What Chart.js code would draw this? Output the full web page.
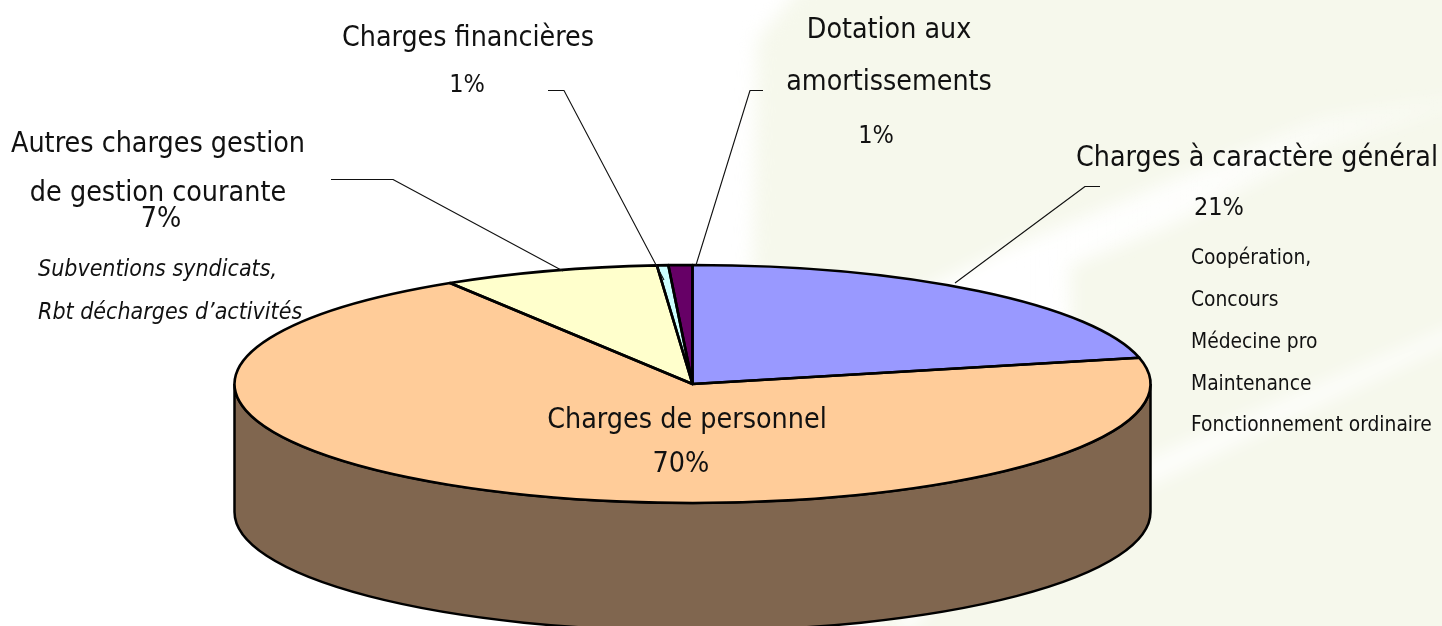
<!DOCTYPE html>
<html lang="fr"><head><meta charset="utf-8">
<style>html,body{margin:0;padding:0;background:#fff;overflow:hidden}canvas{display:block}</style>
<script src="https://cdn.jsdelivr.net/npm/chart.js@4/dist/chart.umd.min.js"></script>
</head><body><canvas id="c" width="1442" height="626"></canvas>
<script>
// Slice shares (printed labels are rounded)
const categories = ["Charges à caractère général","Charges de personnel","Autres charges gestion de gestion courante","Charges financières","Dotation aux amortissements"];
const shares = [21.45, 69.67, 7.64, 0.4, 0.84];
const colours = ["#9999FF","#FFCC99","#FFFFCC","#CCFFFF","#660066"];
const wallColour = "#80664F";
const FONT = '"DejaVu Sans Condensed","DejaVu Sans",sans-serif';

// Presentation geometry of the tilted pie
const E = {cx:692.5, cy:384, rx:458, ry:119, depth:128};

// text, x, y, size, align, style
const texts = [
 ["Charges financières",468,39,28.3,"center",""],
 ["1%",467,85,25,"center",""],
 ["Dotation aux",889,31,28.3,"center",""],
 ["amortissements",889,83,28.3,"center",""],
 ["1%",876,136,25,"center",""],
 ["Charges à caractère général",1257,159,28.3,"center",""],
 ["21%",1219,208,25,"center",""],
 ["Coopération,",1191,259,20.8,"left",""],
 ["Concours",1191,301,20.8,"left",""],
 ["Médecine pro",1191,343,20.8,"left",""],
 ["Maintenance",1191,385,20.8,"left",""],
 ["Fonctionnement ordinaire",1191,426,20.8,"left",""],
 ["Autres charges gestion",158,145,28.4,"center",""],
 ["de gestion courante",158,194,28.4,"center",""],
 ["7%",161,220,28.4,"center",""],
 ["Subventions syndicats,",38,270,23,"left","italic "],
 ["Rbt décharges d’activités",38,313,23,"left","italic "],
 ["Charges de personnel",687,421,28.4,"center",""],
 ["70%",681,465,28.4,"center",""]
];
const leaders = [
 [[548,90.5],[564,90.5],[664,280]],
 [[763,90.5],[750,90.5],[696,265]],
 [[331,179.5],[393,179.5],[563,271]],
 [[1100,186.5],[1085,186.5],[955,283]]
];

function poly(ctx,pts){ctx.beginPath();pts.forEach((p,i)=>i?ctx.lineTo(p[0],p[1]):ctx.moveTo(p[0],p[1]));ctx.closePath();ctx.fill();}

const pie3d = {
 id:"pie3d",
 beforeDraw(chart){
  const ctx=chart.ctx; ctx.save();
  ctx.filter="blur(9px)";
  ctx.fillStyle="#F6F8EC";
  poly(ctx,[[815,-30],[1480,-30],[1480,660],[890,660],[752,300],[757,40]]);
  const g=ctx.createLinearGradient(1020,0,1442,0);
  g.addColorStop(0,"rgba(255,255,255,1)");
  g.addColorStop(0.4,"rgba(255,255,255,0.85)");
  g.addColorStop(1,"rgba(255,255,255,0.25)");
  ctx.fillStyle=g;
  poly(ctx,[[900,300],[1000,252],[1320,118],[1460,92],[1460,108],[1320,150],[1170,226],[1070,266],[1072,345],[1100,420],[900,640]]);
  ctx.fillStyle="rgba(255,255,255,0.8)";
  poly(ctx,[[1140,462],[1442,331],[1470,320],[1470,336],[1442,347],[1140,490]]);
  ctx.restore();
 },
 beforeDatasetsDraw(chart){
  const ctx=chart.ctx;
  ctx.save();
  ctx.beginPath();
  ctx.moveTo(E.cx+E.rx,E.cy);
  ctx.lineTo(E.cx+E.rx,E.cy+E.depth);
  ctx.ellipse(E.cx,E.cy+E.depth,E.rx,E.ry,0,0,Math.PI);
  ctx.lineTo(E.cx-E.rx,E.cy);
  ctx.ellipse(E.cx,E.cy,E.rx,E.ry,0,Math.PI,0,true);
  ctx.closePath();
  ctx.fillStyle=wallColour; ctx.fill();
  ctx.lineWidth=2.5; ctx.strokeStyle="#000"; ctx.stroke();
  ctx.restore();
  const a=chart.getDatasetMeta(0).data[0];
  ctx.save();
  ctx.translate(E.cx,E.cy);
  ctx.scale(E.rx/a.outerRadius,E.ry/a.outerRadius);
  ctx.translate(-a.x,-a.y);
 },
 afterDatasetsDraw(chart){
  const ctx=chart.ctx;
  ctx.restore();
  ctx.save();
  ctx.lineJoin="round"; ctx.strokeStyle="#000"; ctx.lineWidth=2.6;
  chart.getDatasetMeta(0).data.forEach(s=>{
   ctx.beginPath();
   ctx.moveTo(E.cx,E.cy);
   ctx.ellipse(E.cx,E.cy,E.rx,E.ry,0,s.startAngle,s.endAngle);
   ctx.closePath();
   ctx.stroke();
  });
  ctx.strokeStyle="#111"; ctx.lineWidth=1.1;
  leaders.forEach(l=>{
   ctx.beginPath();
   l.forEach((p,i)=>i?ctx.lineTo(p[0],p[1]):ctx.moveTo(p[0],p[1]));
   ctx.stroke();
  });
  ctx.fillStyle="#111"; ctx.textBaseline="middle";
  texts.forEach(t=>{
   ctx.font=t[5]+t[3]+"px "+FONT;
   ctx.textAlign=t[4];
   ctx.fillText(t[0],t[1],t[2]);
  });
  ctx.restore();
 }
};

new Chart(document.getElementById("c"),{
 type:"pie",
 data:{labels:categories,datasets:[{data:shares,backgroundColor:colours,borderWidth:0}]},
 options:{responsive:false,animation:false,layout:{padding:0},
  plugins:{legend:{display:false},tooltip:{enabled:false}}},
 plugins:[pie3d]
});
</script></body></html>
